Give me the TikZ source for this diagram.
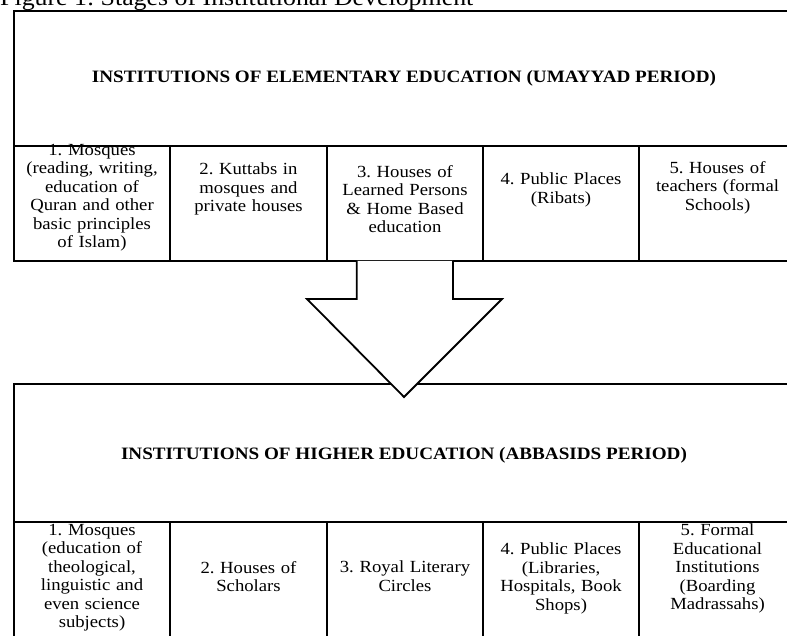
\documentclass[tikz,border=0pt]{standalone}
\usepackage{fontspec}
\setmainfont{Liberation Serif}[FakeStretch=1.1]
\usetikzlibrary{positioning}
\frenchspacing
\tikzset{
  frame/.style={line width=2.6pt},
  blockarrow/.style={line width=1.8pt, fill=white, line join=miter},
  cell/.style={text width=154pt, align=center, inner sep=0pt, anchor=north,
    font=\fontsize{17}{18.5}\selectfont},
  head/.style={inner sep=0pt, font=\fontsize{17.4}{18.5}\selectfont\bfseries},
}
\begin{document}
\begin{tikzpicture}[x=1pt,y=-1pt]
\useasboundingbox (0,0) rectangle (787,636);
\node[anchor=base west, inner sep=0pt, font=\fontsize{23.5}{26}\selectfont] (caption) at (0,6) {Figure 1: Stages of Institutional Development};

\node[head] (elem) at (404,78) {INSTITUTIONS OF ELEMENTARY EDUCATION (UMAYYAD PERIOD)};
\node[cell] (e1) at (92,144) {1. Mosques\\(reading, writing,\\education of\\Quran and other\\basic principles\\of Islam)};
\node[cell] (e2) at (248.5,163) {2. Kuttabs in\\mosques and\\private houses};
\node[cell] (e3) at (405,165) {3. Houses of\\Learned Persons\\\& Home Based\\education};
\node[cell] (e4) at (561,173) {4. Public Places\\(Ribats)};
\node[cell] (e5) at (717.5,161) {5. Houses of\\teachers (formal\\Schools)};

\draw[frame] (14,11) rectangle (796,261);
\draw[frame] (14,146) -- (796,146);
\foreach \x in {170,327,483,639} \draw[frame] (\x,146) -- (\x,261);

\node[head] (high) at (404,455) {INSTITUTIONS OF HIGHER EDUCATION (ABBASIDS PERIOD)};
\node[cell] (h1) at (92,524) {1. Mosques\\(education of\\theological,\\linguistic and\\even science\\subjects)};
\node[cell] (h2) at (248.5,561) {2. Houses of\\Scholars};
\node[cell] (h3) at (405,561) {3. Royal Literary\\Circles};
\node[cell] (h4) at (561,543) {4. Public Places\\(Libraries,\\Hospitals, Book\\Shops)};
\node[cell] (h5) at (717.5,524) {5. Formal\\Educational\\Institutions\\(Boarding\\Madrassahs)};

\draw[frame] (14,384) rectangle (796,660);
\draw[frame] (14,522) -- (796,522);
\foreach \x in {170,327,483,639} \draw[frame] (\x,522) -- (\x,660);

\draw[blockarrow] (356.7,261) -- (356.7,299) -- (307,299) -- (404,397) -- (502,299) -- (453,299) -- (453,261);
\end{tikzpicture}
\end{document}
